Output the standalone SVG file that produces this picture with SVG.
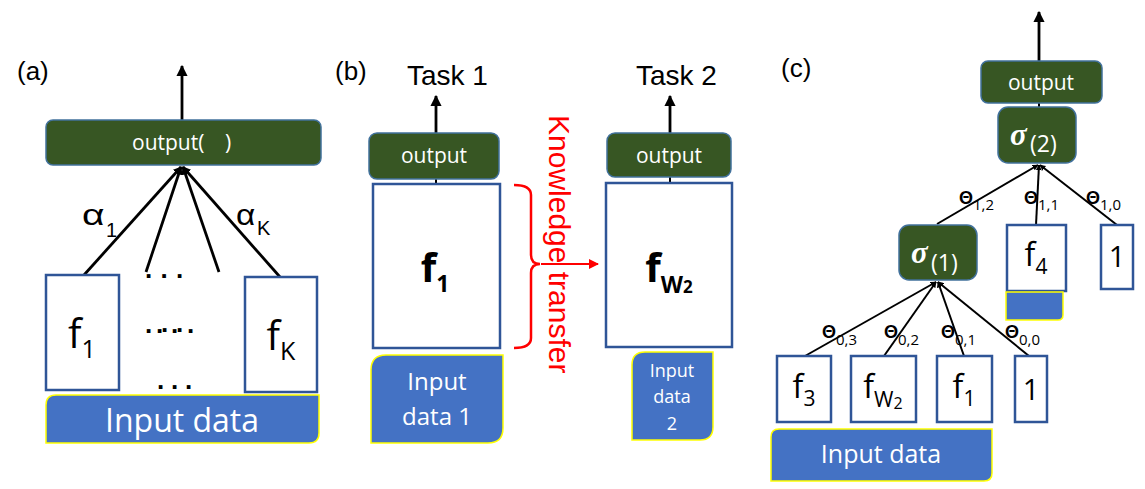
<svg xmlns="http://www.w3.org/2000/svg" width="1145" height="489" viewBox="0 0 1145 489">
<style>
.lbl{font-family:"Liberation Sans",Arial,sans-serif;fill:#000}
.cal{font-family:"Open Sans","Noto Sans",sans-serif}
.wt{fill:#fff}
.bk{fill:#000}
.green{fill:#375623;stroke:#41719C;stroke-width:1.5}
.fbox{fill:#fff;stroke:#2F5597;stroke-width:2.5}
.inp{fill:#4472C4;stroke:#FFFF00;stroke-width:1.5}
.edge{stroke:#000;stroke-width:2.8;fill:none}
.edge2{stroke:#000;stroke-width:2;fill:none}
.sig{font-family:"Liberation Serif","Times New Roman",serif;font-weight:bold;font-style:italic;fill:#fff}
.th{font-family:"Liberation Sans",Arial,sans-serif;font-weight:bold;fill:#000}
.thsub{font-family:"Open Sans","Noto Sans",sans-serif;font-weight:normal}
.dot{font-family:"Liberation Sans",Arial,sans-serif;font-weight:bold;fill:#000}
</style>
<defs>
<marker id="arr" viewBox="0 0 10 10" refX="9" refY="5" markerWidth="4" markerHeight="4" orient="auto"><path d="M0,0 L10,5 L0,10 Z" fill="#000"/></marker>
<marker id="arrS" viewBox="0 0 10 10" refX="9" refY="5" markerWidth="3" markerHeight="3" orient="auto"><path d="M0,0 L10,5 L0,10 Z" fill="#000"/></marker>
<marker id="arrR" viewBox="0 0 10 10" refX="9" refY="5" markerWidth="5" markerHeight="5" orient="auto"><path d="M0,0 L10,5 L0,10 Z" fill="#FF0000"/></marker>
</defs>

<!-- panel labels -->
<text class="lbl" x="17" y="80" font-size="26">(a)</text>
<text class="lbl" x="335" y="80" font-size="26">(b)</text>
<text class="lbl" x="781" y="77" font-size="26">(c)</text>
<text class="lbl" x="407" y="85" font-size="28">Task 1</text>
<text class="lbl" x="636" y="85" font-size="28">Task 2</text>

<!-- connectors -->
<g id="connectors">
<line class="edge" x1="182" y1="120" x2="182" y2="66" marker-end="url(#arr)"/>
<line class="edge" x1="84" y1="275" x2="181" y2="167" marker-end="url(#arrS)"/>
<line class="edge" x1="146" y1="272" x2="181" y2="167" marker-end="url(#arrS)"/>
<line class="edge" x1="219" y1="272" x2="183" y2="167" marker-end="url(#arrS)"/>
<line class="edge" x1="280" y1="277" x2="183" y2="167" marker-end="url(#arrS)"/>
<line class="edge" x1="436" y1="133" x2="436" y2="96" marker-end="url(#arr)"/>
<line class="edge2" x1="436" y1="179" x2="436" y2="184"/>
<line class="edge" x1="670" y1="133" x2="670" y2="96" marker-end="url(#arr)"/>
<line class="edge2" x1="670" y1="177" x2="670" y2="183"/>
<path d="M514,185 Q531,185 531,195 V255 Q531,264 540,264 Q531,264 531,273 V338 Q531,348 514,348" stroke="#FF0000" stroke-width="2.5" fill="none"/>
<line x1="541" y1="264" x2="598" y2="264" stroke="#FF0000" stroke-width="2" marker-end="url(#arrR)"/>
<line class="edge" x1="1039" y1="61" x2="1039" y2="12" marker-end="url(#arr)"/>
<line class="edge2" x1="1039" y1="103" x2="1039" y2="107"/>
<line class="edge2" x1="937" y1="224" x2="1038" y2="165" marker-end="url(#arrS)"/>
<line class="edge2" x1="1036" y1="225" x2="1039" y2="165" marker-end="url(#arrS)"/>
<line class="edge2" x1="1117" y1="225" x2="1040" y2="165" marker-end="url(#arrS)"/>
<line class="edge2" x1="805" y1="356" x2="936" y2="282" marker-end="url(#arrS)"/>
<line class="edge2" x1="884" y1="356" x2="936" y2="282" marker-end="url(#arrS)"/>
<line class="edge2" x1="964" y1="356" x2="938" y2="282" marker-end="url(#arrS)"/>
<line class="edge2" x1="1029" y1="356" x2="938" y2="282" marker-end="url(#arrS)"/>
</g>

<!-- panel (a) -->
<g id="a-output">
<rect class="green" x="46" y="120" width="275" height="45" rx="7"/>
<text class="cal wt" x="132" y="150" font-size="21">output(</text>
<text class="cal wt" x="225" y="150" font-size="21">)</text>
</g>
<g id="a-f1">
<rect class="fbox" x="46" y="275" width="73" height="115"/>
<text class="cal bk" x="82" y="348" font-size="40" text-anchor="middle">f<tspan font-size="25" dy="10">1</tspan></text>
</g>
<g id="a-fK">
<rect class="fbox" x="245" y="277" width="72" height="115"/>
<text class="cal bk" x="281" y="350" font-size="40" text-anchor="middle">f<tspan font-size="25" dy="10">K</tspan></text>
</g>
<g id="a-dots">
<text class="dot" x="145" y="278" font-size="26" letter-spacing="8.3">...</text>
<text class="dot" x="145 156 161 171 176 187" y="333 333 332 333 332 333" font-size="26">......</text>
<text class="dot" x="157" y="389" font-size="26" letter-spacing="6.8">...</text>
</g>
<g id="a-alpha">
<text class="lbl" transform="translate(82,225) scale(1.3,1)" font-size="30">α</text>
<text class="lbl" x="106" y="237" font-size="20">1</text>
<text class="lbl" transform="translate(236,225) scale(1.15,1)" font-size="29">α</text>
<text class="lbl" x="257" y="235" font-size="20">K</text>
</g>
<g id="a-input">
<path class="inp" d="M56,395 H319 V433 Q319,443 309,443 H46 V405 Q46,395 56,395 Z"/>
<text class="cal wt" x="182" y="432" font-size="32" text-anchor="middle">Input data</text>
</g>

<!-- panel (b) -->
<g id="b-output1">
<rect class="green" x="369" y="133" width="130" height="46" rx="8"/>
<text class="cal wt" x="434" y="163" font-size="21" text-anchor="middle">output</text>
</g>
<g id="b-f1">
<rect class="fbox" x="373" y="184" width="127" height="164"/>
<text class="cal bk" x="435" y="282" font-size="40" font-weight="bold" text-anchor="middle">f<tspan font-size="23" dy="10">1</tspan></text>
</g>
<g id="b-input1">
<path class="inp" d="M386,355 H503 V428 Q503,443 488,443 H371 V370 Q371,355 386,355 Z"/>
<text class="cal wt" x="437" y="390" font-size="24" text-anchor="middle">Input</text>
<text class="cal wt" x="437" y="425" font-size="24" text-anchor="middle">data 1</text>
</g>
<g id="b-knowledge">
<text x="549" y="115" font-size="30" fill="#FF0000" font-family="Liberation Sans,Arial,sans-serif" transform="rotate(90 549 115)">Knowledge transfer</text>
</g>
<g id="b-output2">
<rect class="green" x="607" y="133" width="124" height="44" rx="8"/>
<text class="cal wt" x="669" y="163" font-size="21" text-anchor="middle">output</text>
</g>
<g id="b-fw2">
<rect class="fbox" x="606" y="183" width="126" height="164"/>
<text class="cal bk" x="669" y="282" font-size="40" font-weight="bold" text-anchor="middle">f<tspan font-size="23" dy="11">W</tspan><tspan font-size="17">2</tspan></text>
</g>
<g id="b-input2">
<path class="inp" d="M645,352 H713 V427 Q713,440 700,440 H632 V365 Q632,352 645,352 Z"/>
<text class="cal wt" x="672" y="377" font-size="18" text-anchor="middle">Input</text>
<text class="cal wt" x="672" y="403" font-size="18" text-anchor="middle">data</text>
<text class="cal wt" x="672" y="430" font-size="18" text-anchor="middle">2</text>
</g>

<!-- panel (c) -->
<g id="c-output">
<rect class="green" x="981" y="61" width="121" height="42" rx="7"/>
<text class="cal wt" x="1041" y="90" font-size="21" text-anchor="middle">output</text>
</g>
<g id="c-sigma2">
<rect class="green" x="998" y="107" width="78" height="56" rx="10"/>
<text class="sig" x="1010" y="145" font-size="31">σ</text>
<text class="cal wt" x="1030" y="152" font-size="23">(2)</text>
</g>
<g id="c-sigma1">
<rect class="green" x="899" y="225" width="78" height="55" rx="10"/>
<text class="sig" x="911" y="263" font-size="31">σ</text>
<text class="cal wt" x="931" y="271" font-size="23">(1)</text>
</g>
<g id="c-f4">
<rect class="fbox" x="1007" y="225" width="59" height="66" stroke-width="2"/>
<text class="cal bk" x="1036" y="266" font-size="32" text-anchor="middle">f<tspan font-size="21" dy="8">4</tspan></text>
<path class="inp" d="M1006,292 H1063 V315 Q1063,320 1058,320 H1006 Z"/>
</g>
<g id="c-one-top">
<rect class="fbox" x="1101" y="225" width="32" height="64" stroke-width="2"/>
<text class="cal bk" x="1117" y="267" font-size="29" text-anchor="middle">1</text>
</g>
<g id="c-f3">
<rect class="fbox" x="777" y="356" width="54" height="66" stroke-width="2"/>
<text class="cal bk" x="804" y="398" font-size="32" text-anchor="middle">f<tspan font-size="21" dy="8">3</tspan></text>
</g>
<g id="c-fw2">
<rect class="fbox" x="851" y="356" width="65" height="66" stroke-width="2"/>
<text class="cal bk" x="883" y="398" font-size="32" text-anchor="middle">f<tspan font-size="21" dy="9">W</tspan><tspan font-size="16" dy="2">2</tspan></text>
</g>
<g id="c-f1">
<rect class="fbox" x="937" y="356" width="55" height="66" stroke-width="2"/>
<text class="cal bk" x="964" y="398" font-size="32" text-anchor="middle">f<tspan font-size="21" dy="8">1</tspan></text>
</g>
<g id="c-one-bottom">
<rect class="fbox" x="1015" y="356" width="32" height="66" stroke-width="2"/>
<text class="cal bk" x="1031" y="400" font-size="29" text-anchor="middle">1</text>
</g>
<g id="c-theta">
<text class="th" x="959" y="204" font-size="18">Θ<tspan class="thsub" font-size="15" dy="6">1,2</tspan></text>
<text class="th" x="1024" y="204" font-size="18">Θ<tspan class="thsub" font-size="15" dy="6">1,1</tspan></text>
<text class="th" x="1086" y="204" font-size="18">Θ<tspan class="thsub" font-size="15" dy="6">1,0</tspan></text>
<text class="th" x="822" y="338" font-size="18">Θ<tspan class="thsub" font-size="15" dy="7">0,3</tspan></text>
<text class="th" x="884" y="338" font-size="18">Θ<tspan class="thsub" font-size="15" dy="7">0,2</tspan></text>
<text class="th" x="941" y="338" font-size="18">Θ<tspan class="thsub" font-size="15" dy="7">0,1</tspan></text>
<text class="th" x="1005" y="338" font-size="18">Θ<tspan class="thsub" font-size="15" dy="7">0,0</tspan></text>
</g>
<g id="c-input">
<path class="inp" d="M779,429 H992 V473 Q992,481 984,481 H771 V437 Q771,429 779,429 Z"/>
<text class="cal wt" x="881" y="463" font-size="25" text-anchor="middle">Input data</text>
</g>
</svg>
